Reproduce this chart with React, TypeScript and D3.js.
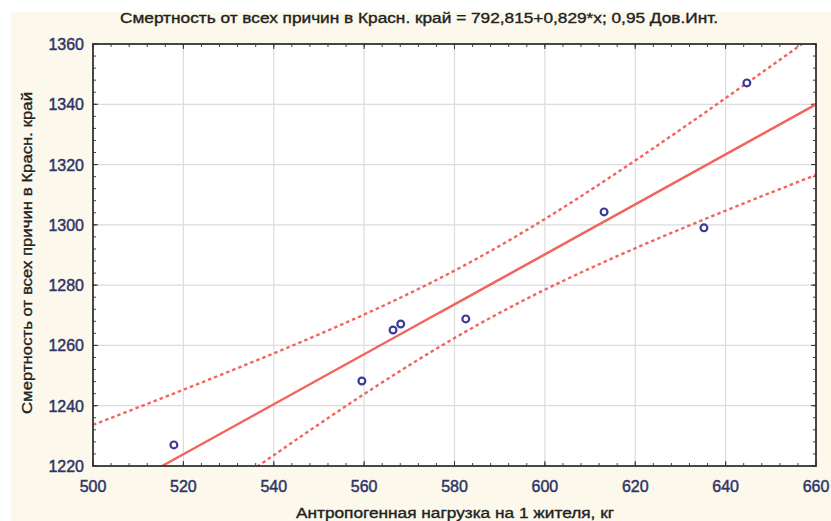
import * as React from 'react'
import * as d3 from 'd3'

// наблюдения (читаются с картинки)
const xValues = [517.9, 559.5, 566.4, 568.1, 582.5, 613.1, 635.2, 644.7]
const yValues = [1227.0, 1248.2, 1265.1, 1267.1, 1268.8, 1304.3, 1299.0, 1347.1]

// регрессия из заголовка
const intercept = 792.815
const slope = 0.829
const tCrit = 2.447 // t(0.975; 6)

const xTicks = [500, 520, 540, 560, 580, 600, 620, 640, 660]
const yTicks = [1220, 1240, 1260, 1280, 1300, 1320, 1340, 1360]

const title = 'Смертность от всех причин в Красн. край = 792,815+0,829*x; 0,95 Дов.Инт.'
const xTitle = 'Антропогенная нагрузка на 1 жителя, кг'
const yTitle = 'Смертность от всех причин в Красн. край'

const W = 831
const H = 521
const m = { left: 93, top: 44, right: 816, bottom: 466 }

const App = () => {
  const x = d3.scaleLinear().domain([500, 660]).range([m.left, m.right])
  const y = d3.scaleLinear().domain([1220, 1360]).range([m.bottom, m.top])

  const n = xValues.length
  const xm = d3.mean(xValues) as number
  const sxx = d3.sum(xValues, v => (v - xm) ** 2)
  const sse = d3.sum(xValues, (v, i) => (yValues[i] - (intercept + slope * v)) ** 2)
  const s = Math.sqrt(sse / (n - 2))

  const grid = d3.range(500, 660.01, 1)
  const fit = (v: number) => intercept + slope * v
  const half = (v: number) => tCrit * s * Math.sqrt(1 / n + (v - xm) ** 2 / sxx)

  const mainPath = d3.line<number>().x(v => x(v)).y(v => y(fit(v)))(grid)
  const upperPath = d3.line<number>().x(v => x(v)).y(v => y(fit(v) + half(v)))(grid)
  const lowerPath = d3.line<number>().x(v => x(v)).y(v => y(fit(v) - half(v)))(grid)

  const xMinor = d3.range(500, 660.01, 4)
  const yMinor = d3.range(1220, 1360.01, 4)

  const red = '#f2655d'
  const tickColor = '#2e3566'

  return (
    <div style={{ position: 'fixed', left: 0, top: 0 }}>
      <svg width={W} height={H} style={{ display: 'block' }} fontFamily="'Liberation Sans', Arial, sans-serif">
        <rect x={0} y={0} width={W} height={H} fill="#ffffff" />
        <rect x={11} y={12} width={W - 11} height={H - 12} fill="#fcf9ec" />
        <rect x={m.left} y={m.top} width={m.right - m.left} height={m.bottom - m.top} fill="#ffffff" />

        <defs>
          <clipPath id="plotClip">
            <rect x={m.left} y={m.top} width={m.right - m.left} height={m.bottom - m.top} />
          </clipPath>
        </defs>

        {/* сетка */}
        {xTicks.slice(1, -1).map(t => (
          <line key={'gx' + t} x1={x(t)} x2={x(t)} y1={m.top} y2={m.bottom} stroke="#dcdcdc" strokeWidth={1.2} />
        ))}
        {yTicks.slice(1, -1).map(t => (
          <line key={'gy' + t} x1={m.left} x2={m.right} y1={y(t)} y2={y(t)} stroke="#dcdcdc" strokeWidth={1.2} />
        ))}

        {/* засечки */}
        {xMinor.map(t => (
          <g key={'mx' + t} stroke="#444" strokeWidth={1}>
            <line x1={x(t)} x2={x(t)} y1={m.bottom} y2={m.bottom - 3} />
            <line x1={x(t)} x2={x(t)} y1={m.top} y2={m.top + 3} />
          </g>
        ))}
        {yMinor.map(t => (
          <g key={'my' + t} stroke="#444" strokeWidth={1}>
            <line x1={m.left} x2={m.left + 3} y1={y(t)} y2={y(t)} />
            <line x1={m.right} x2={m.right - 3} y1={y(t)} y2={y(t)} />
          </g>
        ))}
        {xTicks.map(t => (
          <g key={'Mx' + t} stroke="#333" strokeWidth={1}>
            <line x1={x(t)} x2={x(t)} y1={m.bottom} y2={m.bottom - 5} />
            <line x1={x(t)} x2={x(t)} y1={m.top} y2={m.top + 5} />
          </g>
        ))}
        {yTicks.map(t => (
          <g key={'My' + t} stroke="#333" strokeWidth={1}>
            <line x1={m.left} x2={m.left + 5} y1={y(t)} y2={y(t)} />
            <line x1={m.right} x2={m.right - 5} y1={y(t)} y2={y(t)} />
          </g>
        ))}

        <g clipPath="url(#plotClip)" fill="none" stroke={red} strokeWidth={2.4}>
          <path d={mainPath ?? ''} />
          <path d={upperPath ?? ''} strokeDasharray="3.5,3" />
          <path d={lowerPath ?? ''} strokeDasharray="3.5,3" />
        </g>

        {xValues.map((v, i) => (
          <circle key={'p' + i} cx={x(v)} cy={y(yValues[i])} r={3.4} fill="#ffffff" stroke="#3a3a9a" strokeWidth={2.2} />
        ))}

        <rect x={m.left} y={m.top} width={m.right - m.left} height={m.bottom - m.top} fill="none" stroke="#333" strokeWidth={1.8} />

        {/* подписи */}
        {xTicks.map(t => (
          <text key={'lx' + t} x={x(t)} y={492} textAnchor="middle" fontSize={16} fill={tickColor} stroke={tickColor} strokeWidth={0.45}>{t}</text>
        ))}
        {yTicks.map(t => (
          <text key={'ly' + t} x={84} y={y(t) + 6} textAnchor="end" fontSize={16} fill={tickColor} stroke={tickColor} strokeWidth={0.45}>{t}</text>
        ))}

        <text x={419} y={23} textAnchor="middle" fontSize={14} fill="#222" stroke="#222" strokeWidth={0.35} textLength={598} lengthAdjust="spacingAndGlyphs">{title}</text>
        <text x={455} y={518} textAnchor="middle" fontSize={14} fill="#222" stroke="#222" strokeWidth={0.35} textLength={318} lengthAdjust="spacingAndGlyphs">{xTitle}</text>
        <text transform={`translate(32, ${253}) rotate(-90)`} textAnchor="middle" fontSize={14} fill="#222" stroke="#222" strokeWidth={0.35} textLength={322} lengthAdjust="spacingAndGlyphs">{yTitle}</text>
      </svg>
    </div>
  )
}

export default App
